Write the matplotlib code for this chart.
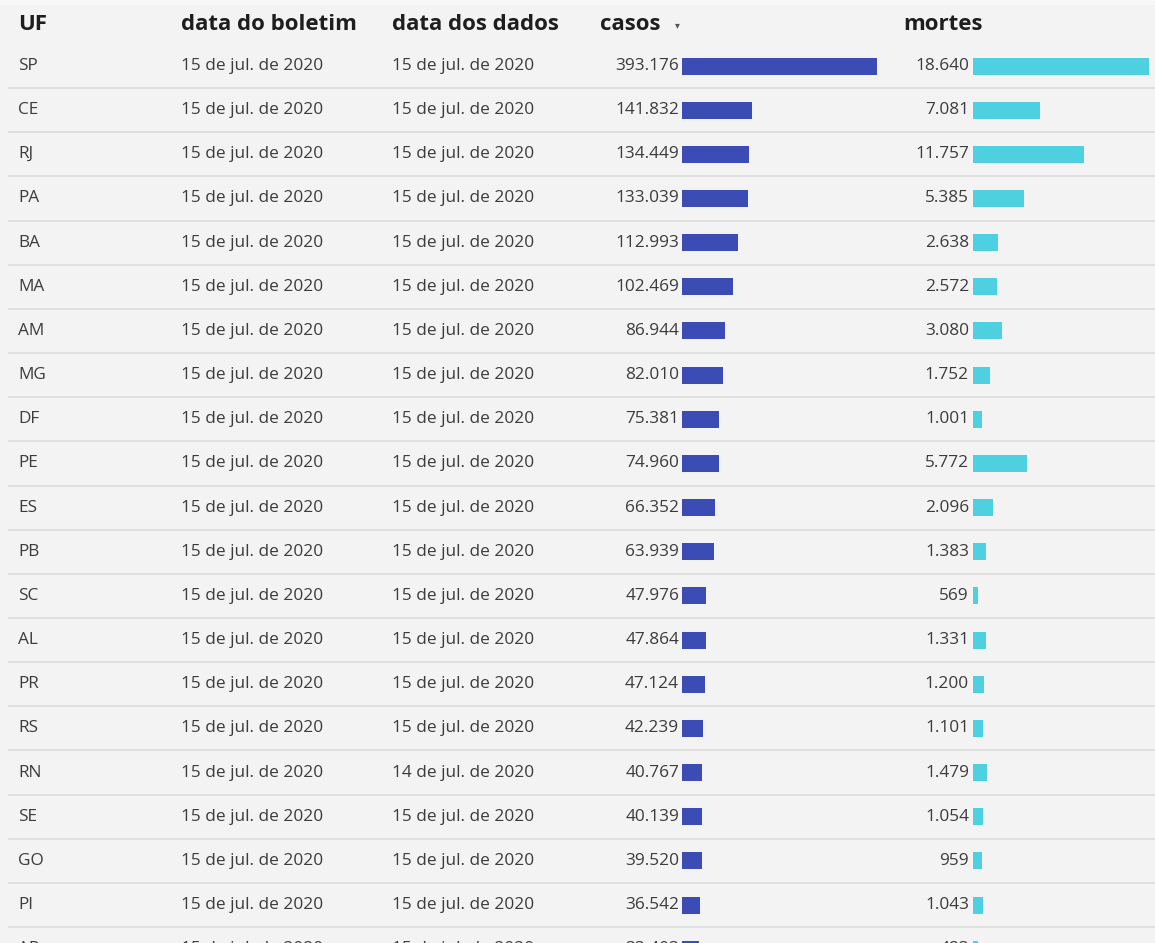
import matplotlib
matplotlib.use("Agg")
import matplotlib.pyplot as plt

plt.rcParams['font.family'] = ['Open Sans', 'DejaVu Sans']

# table data
uf = ['SP', 'CE', 'RJ', 'PA', 'BA', 'MA', 'AM', 'MG', 'DF', 'PE',
      'ES', 'PB', 'SC', 'AL', 'PR', 'RS', 'RN', 'SE', 'GO', 'PI', 'AP']
data_boletim = ['15 de jul. de 2020'] * 21
data_dados = ['15 de jul. de 2020'] * 16 + ['14 de jul. de 2020'] + ['15 de jul. de 2020'] * 4
casos = [393176, 141832, 134449, 133039, 112993, 102469, 86944, 82010, 75381, 74960,
         66352, 63939, 47976, 47864, 47124, 42239, 40767, 40139, 39520, 36542, 33403]
mortes = [18640, 7081, 11757, 5385, 2638, 2572, 3080, 1752, 1001, 5772,
          2096, 1383, 569, 1331, 1200, 1101, 1479, 1054, 959, 1043, 483]
headers = ['UF', 'data do boletim', 'data dos dados', 'casos', 'mortes']

W, H = 1155, 943
BG = '#f3f3f3'
C_CASOS = '#3b4cb4'
C_MORTES = '#4fd0e0'
TXT = '#3c3c3c'
FS = 12.4

def fmt(v):
    return f'{v:,}'.replace(',', '.')

fig = plt.figure(figsize=(W / 100, H / 100), dpi=100, facecolor=BG)
ax = fig.add_axes([0, 0, 1, 1])
ax.set_xlim(0, W)
ax.set_ylim(H, 0)
ax.axis('off')
ax.axhspan(0, 5, color='#f7f7f7', lw=0)

row0, pitch = 66, 44.16
ys = [row0 + i * pitch for i in range(len(uf))]

# header
hy = 24
for x, h in zip([18, 181, 392, 600, 903], headers):
    ax.text(x, hy, h, fontsize=16, fontweight='bold', color='#1e1e1e',
            va='center', ha='left')
ax.text(677, hy + 2, '▾', fontsize=7, color='#555555', va='center', ha='center')

# rows
for i, y in enumerate(ys):
    ax.text(18, y, uf[i], fontsize=FS, color=TXT, va='center')
    ax.text(181, y, data_boletim[i], fontsize=FS, color=TXT, va='center')
    ax.text(392, y, data_dados[i], fontsize=FS, color=TXT, va='center')
    ax.text(679, y, fmt(casos[i]), fontsize=FS, color=TXT, va='center', ha='right')
    ax.text(969, y, fmt(mortes[i]), fontsize=FS, color=TXT, va='center', ha='right')
    sep = y + pitch / 2
    ax.plot([8, W], [sep, sep], color='#dcdcdc', lw=1.2, solid_capstyle='butt')

# bar columns
def bar_axes(x0, x1, vals, color):
    b = fig.add_axes([x0 / W, 0, (x1 - x0) / W, 1])
    b.set_xlim(0, max(vals))
    b.set_ylim(H, 0)
    b.axis('off')
    b.patch.set_alpha(0)
    b.barh(ys, vals, height=17, color=color, left=0)
    return b

bar_axes(682, 877, casos, C_CASOS)
bar_axes(973, 1149, mortes, C_MORTES)

fig.savefig('out.png', dpi=100, facecolor=BG)
